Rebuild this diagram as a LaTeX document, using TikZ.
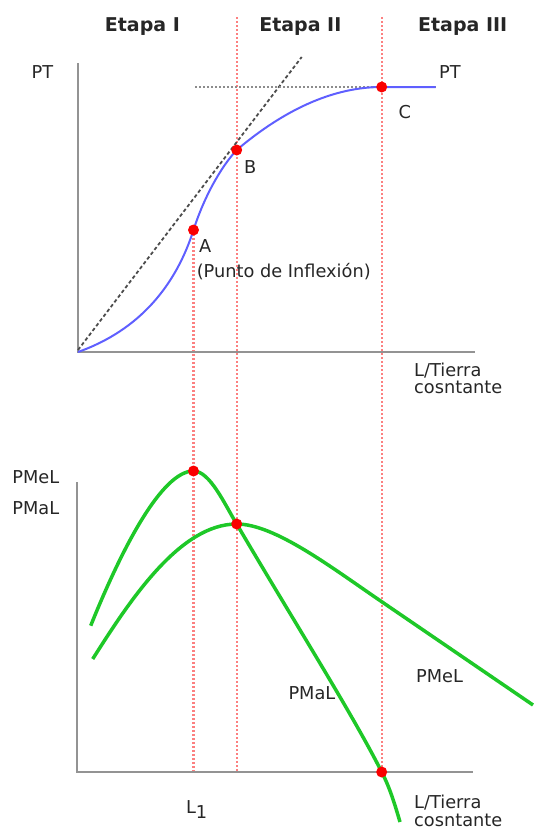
\documentclass[tikz,border=0pt]{standalone}
\usepackage{fontspec}
\setmainfont{DejaVu Sans}
\usepackage{tikz}
\usepackage{xcolor}
\definecolor{green}{RGB}{30,200,40}
\definecolor{red}{RGB}{250,0,0}
\definecolor{blue}{RGB}{95,95,255}

\begin{document}
\begin{tikzpicture}[x=1pt, y=-1pt,
        every node/.style={font=\fontsize{17.75}{20}\selectfont, text=black!85, inner sep=0pt},
        axis/.style={gray!85, line width=2.7pt},
        guide/.style={red!50, line width=2.2pt, dash pattern=on 2pt off 2pt},
        punto/.style={fill=red},
        curva/.style={green, line width=3.5pt},
        etapa/.style={font=\fontsize{19}{22}\selectfont\bfseries, anchor=base},
        lbl/.style={anchor=base west}]
    \useasboundingbox (0,0) rectangle (533,827);

    % Points
    \coordinate (O) at (78,352);
    \coordinate (A) at (193.5,230);
    \coordinate (B) at (236.7,150);
    \coordinate (C) at (381.7,87);
    \coordinate (Btop) at (236.7,17);
    \coordinate (Ctop) at (381.7,17);
    \coordinate (M) at (193.5,471);
    \coordinate (N) at (236.7,524);
    \coordinate (L1) at (193.5,772);
    \coordinate (L2) at (236.7,772);
    \coordinate (Z) at (381.7,772);

    % Stages
    \draw[guide] (A) -- (L1);
    \draw[guide] (Btop) -- (L2);
    \draw[guide] (Ctop) -- (Z);
    \node[etapa] (etapa1) at (142.4,31) {Etapa I};
    \node[etapa] (etapa2) at (300.3,31) {Etapa II};
    \node[etapa] (etapa3) at (462.7,31) {Etapa III};

    % Top axes
    \draw[axis] (78,63) -- (O) -- (474.6,352);
    \node[lbl] (ptl) at (31.5,78) {PT};
    \node[lbl] (xtop) at (414,376) {L/Tierra};
    \node[lbl] (xtop2) at (414,393) {cosntante};

    % Tangent and maximum
    \draw[black!70, line width=1.8pt, dash pattern=on 3.5pt off 2.5pt] (78,350) -- (301.7,57);
    \draw[gray!90, line width=2.2pt, dash pattern=on 2pt off 2pt] (195,87) -- (435.6,87);

    % PT curve
    \draw[blue, line width=2pt] (O) .. controls (140,330) and (176,285) .. (A)
        .. controls (203.5,198.6) and (220,168) .. (B)
        .. controls (275.6,117) and (326,87) .. (C) -- (435.6,87);
    \fill[punto] (A) circle (5.5pt);
    \fill[punto] (B) circle (5.5pt);
    \fill[punto] (C) circle (5.5pt);
    \node[lbl] (ptr) at (439,78) {PT};
    \node[lbl] (labC) at (398.3,118) {C};
    \node[lbl] (labB) at (244,173) {B};
    \node[lbl] (labA) at (199,252) {A};
    \node[lbl] (infl) at (196.6,277) {(Punto de Inflexión)};

    % Bottom axes
    \draw[axis] (77,482) -- (77,772) -- (473,772);
    \node[lbl] (pmel) at (12.2,483) {PMeL};
    \node[lbl] (pmal) at (12.2,514) {PMaL};
    \node[lbl] (l1) at (185.8,813) {L\raisebox{-5pt}{1}};
    \node[lbl] (xbot) at (414,808) {L/Tierra};
    \node[lbl] (xbot2) at (414,826) {cosntante};

    % PMaL and PMeL
    \draw[curva] (90.7,625.7) .. controls (122,548) and (162,471) .. (M)
        .. controls (210,471) and (225,505) .. (N)
        .. controls (290,615) and (352,713) .. (Z)
        .. controls (390,788) and (395,805) .. (400,822);
    \draw[curva] (92.7,659) .. controls (130,600) and (180,524) .. (N)
        .. controls (275,524) and (331.7,567.7) .. (381.7,601.7) -- (533,705);
    \fill[punto] (M) circle (5.5pt);
    \fill[punto] (N) circle (5.5pt);
    \fill[punto] (Z) circle (5.5pt);
    \node[lbl] (pmalc) at (288.3,699) {PMaL};
    \node[lbl] (pmelc) at (416,682) {PMeL};
\end{tikzpicture}
\end{document}
